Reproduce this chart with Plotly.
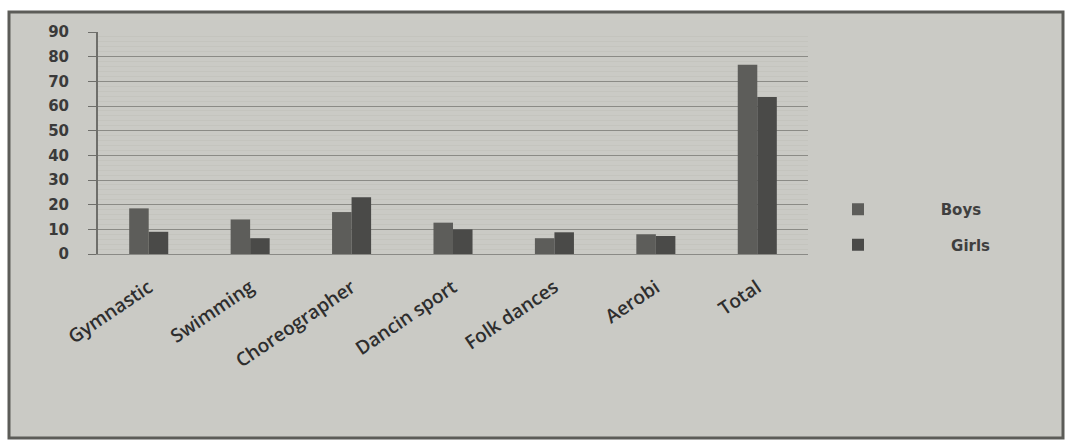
import plotly.graph_objects as go

categories = ["Gymnastic", "Swimming", "Choreographer", "Dancin sport", "Folk dances", "Aerobi", "Total"]
boys = [18.5, 14, 17, 12.7, 6.4, 8, 76.7]
girls = [9, 6.4, 23, 10, 8.8, 7.3, 63.6]
y_ticks = [0, 10, 20, 30, 40, 50, 60, 70, 80, 90]

NB = "\u00a0"
fig = go.Figure()
fig.add_trace(go.Bar(x=categories, y=boys, name=NB * 12 + "Boys", legendgroup="b",
                     marker=dict(color="#5d5d5a", line=dict(width=0))))
fig.add_trace(go.Bar(x=categories, y=girls, name=NB * 14 + "Girls", legendgroup="g",
                     marker=dict(color="#4a4a48", line=dict(width=0))))

W, H = 1069, 441
L, R, T, B = 98, 261, 32, 187
pw, ph = W - L - R, H - T - B
def px(x):
    return (x - L) / pw
def py(y):
    return (H - B - y) / ph

fig.update_layout(
    width=W, height=H,
    margin=dict(l=L, r=R, t=T, b=B, pad=0),
    paper_bgcolor="white",
    plot_bgcolor="#b0b0aa",
    barmode="group",
    bargap=0.615,
    bargroupgap=0,
    showlegend=True,
    legend=dict(x=px(838), y=py(193), xanchor="left", yanchor="top",
                bgcolor="rgba(0,0,0,0)", tracegroupgap=13, itemwidth=30,
                font=dict(family="DejaVu Sans", size=15, weight="bold", color="#3f3f3f")),
    shapes=[dict(type="rect", xref="paper", yref="paper", layer="below",
                 x0=px(9), x1=px(1063), y0=py(438), y1=py(12),
                 fillcolor="#cacac5", line=dict(color="#5c5c58", width=3))],
    xaxis=dict(type="category", tickangle=-34, showgrid=False,
               showline=True, linecolor="#8a8a86", linewidth=1,
               ticks="", ticklabelstandoff=14,
               tickfont=dict(family="Open Sans", size=19, weight=600, color="#2e2e2e")),
    yaxis=dict(range=[0, 90], tickvals=y_ticks, showgrid=True, gridcolor="#8b8b86", gridwidth=1,
               minor=dict(dtick=2, showgrid=True, gridcolor="#c4c4be", gridwidth=1),
               showline=True, linecolor="#6e6e6a", linewidth=2,
               ticks="outside", ticklen=8, tickcolor="#6e6e6a",
               ticklabelstandoff=16, zeroline=False,
               tickfont=dict(family="DejaVu Sans", size=15, weight="bold", color="#3a3a3a")),
)

# remove the browser's default 8px body margin so the figure fills the window
fig.write_html("out.html", config={"displayModeBar": False},
               post_script="document.body.style.margin='0';document.body.style.overflow='hidden';")
